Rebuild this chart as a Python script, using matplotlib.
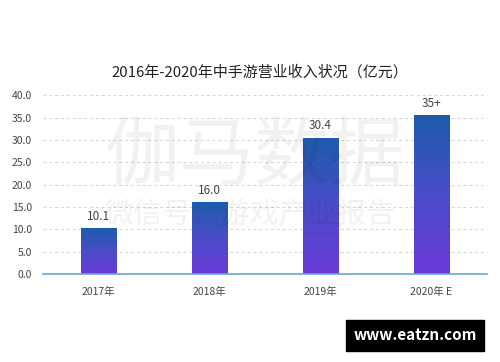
import numpy as np
import matplotlib

matplotlib.use("Agg")
import matplotlib.pyplot as plt
from matplotlib.colors import LinearSegmentedColormap

plt.rcParams["font.family"] = ["Noto Sans CJK SC", "DejaVu Sans"]

# --- data --------------------------------------------------------------------
years = ["2017年", "2018年", "2019年", "2020年 E"]
revenue = [10.1, 16.0, 30.4, 35.5]
bar_labels = ["10.1", "16.0", "30.4", "35+"]
y_ticks = [0, 5, 10, 15, 20, 25, 30, 35, 40]
TITLE = "2016年-2020年中手游营业收入状况（亿元）"

BAR_W = 0.32
grad = LinearSegmentedColormap.from_list("bar", ["#6a3ad8", "#4a4cc8", "#1d5cab"])

fig = plt.figure(figsize=(5.0, 3.62), dpi=100)
ax = fig.add_axes([0.086, 0.243, 0.888, 0.494])

x = np.arange(len(years)) + 0.5
bars = ax.bar(x, revenue, width=BAR_W, color="none", zorder=3)
g = np.linspace(0, 1, 256).reshape(-1, 1)
for b in bars:
    x0, w, h = b.get_x(), b.get_width(), b.get_height()
    ax.imshow(g, cmap=grad, origin="lower", aspect="auto",
              extent=(x0, x0 + w, 0, h), zorder=3)
for xi, v, lab in zip(x, revenue, bar_labels):
    ax.text(xi, v + 1.3, lab, ha="center", va="bottom", fontsize=8.5, color="#444444")

ax.set_xlim(0, len(years))
ax.set_ylim(0, 40)
ax.set_xticks(x)
ax.set_xticklabels(years, fontsize=7.5, color="#444444")
ax.set_yticks(y_ticks)
ax.set_yticklabels([f"{t:.1f}" for t in y_ticks], fontsize=7.5, color="#444444")
ax.tick_params(length=0, pad=8)
ax.tick_params(axis="x", pad=9)
for t in y_ticks[1:]:
    ax.axhline(t, color="#d4d4d4", lw=0.7, ls=(0, (3, 3)), zorder=1)
for s in ("top", "right", "left"):
    ax.spines[s].set_visible(False)
ax.spines["bottom"].set_color("#6aa6cf")
ax.spines["bottom"].set_linewidth(1.2)
ax.spines["bottom"].set_zorder(4)

fig.text(0.52, 0.80, TITLE, ha="center", va="center", fontsize=10.8, color="#222222")

# watermark (sits behind the bars, as in the source image)
fig.text(0.51, 0.565, "伽马数据", ha="center", va="center", fontsize=54,
         color="#000000", alpha=0.055, zorder=0)
fig.text(0.50, 0.405, "微信号：游戏产业报告", ha="center", va="center", fontsize=21,
         color="#000000", alpha=0.055, zorder=0)

# site badge
fig.text(0.83, 0.074, "www.eatzn.com", ha="center", va="center", fontsize=11,
         color="white", fontweight="bold",
         bbox=dict(boxstyle="square,pad=0.5", fc="black", ec="black"))

fig.savefig("out.png", dpi=100, facecolor="white")
